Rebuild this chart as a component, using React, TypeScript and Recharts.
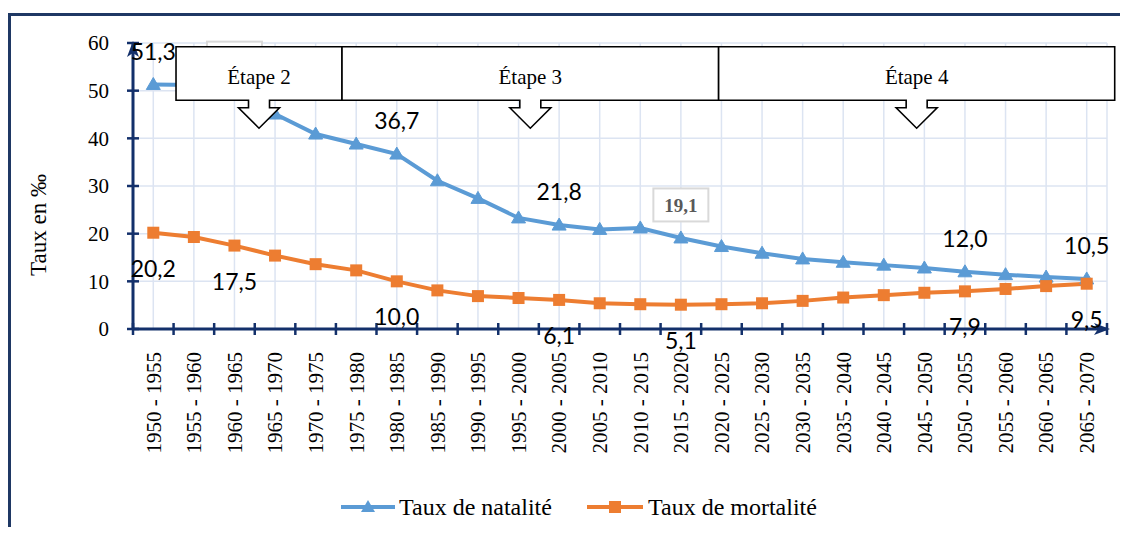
import React from 'react'
import { CartesianGrid, LabelList, Line, LineChart, ReferenceArea, XAxis, YAxis } from 'recharts'

const periods = [
  '1950 - 1955', '1955 - 1960', '1960 - 1965', '1965 - 1970', '1970 - 1975', '1975 - 1980',
  '1980 - 1985', '1985 - 1990', '1990 - 1995', '1995 - 2000', '2000 - 2005', '2005 - 2010',
  '2010 - 2015', '2015 - 2020', '2020 - 2025', '2025 - 2030', '2030 - 2035', '2035 - 2040',
  '2040 - 2045', '2045 - 2050', '2050 - 2055', '2055 - 2060', '2060 - 2065', '2065 - 2070',
]
const natalite = [51.3, 51.2, 49.9, 45.1, 40.9, 38.8, 36.7, 31.1, 27.4, 23.3, 21.8, 20.9, 21.2, 19.1, 17.3, 15.9, 14.7, 14.0, 13.4, 12.8, 12.0, 11.4, 10.9, 10.5]
const mortalite = [20.2, 19.3, 17.5, 15.4, 13.6, 12.3, 10.0, 8.1, 6.9, 6.5, 6.1, 5.4, 5.2, 5.1, 5.2, 5.4, 5.9, 6.6, 7.1, 7.6, 7.9, 8.4, 9.0, 9.5]
const yTicks = [0, 10, 20, 30, 40, 50, 60]

// which points carry a data label
const natLabelIdx = [0, 6, 10, 20, 23]
const natBoxedIdx = [13]
const natHiddenBoxIdx = [2] // label box tucked behind the "Étape 2" call-out
const morLabelIdx = [0, 2, 6, 10, 13, 20, 23]

// stage call-outs, in category units
const stages = [
  { name: 'Étape 2', from: 0.56, to: 4.65 },
  { name: 'Étape 3', from: 4.65, to: 13.93 },
  { name: 'Étape 4', from: 13.93, to: 23.69 },
]
const stageTop = 59.2
const stageBottom = 48

const rows = periods.map((period, i) => ({ idx: i, period, natalite: natalite[i], mortalite: mortalite[i] }))
const centers = periods.map((_, i) => i)

const NAVY = '#13306B'
const FRAME = '#1F3864'
const GRID = '#DCE4F2'
const BLUE = '#5B9BD5'
const ORANGE = '#ED7D31'
const SERIF = '"Liberation Serif", "Times New Roman", serif'
const SANS = 'Lato, Calibri, sans-serif'

const fmt = (v: number) => v.toFixed(1).replace('.', ',')

// category label plus the cross tick marks on the band boundaries
function PeriodTick({ x, y, payload, width }: any) {
  const half = width / periods.length / 2
  const ty = y + 23
  const last = payload.value === periods.length - 1
  const r = x + half
  return (
    <g>
      <line x1={x - half} x2={x - half} y1={y - 6} y2={y + 6} stroke={NAVY} strokeWidth={2.5} />
      {last && (
        <g>
          <line x1={r} x2={r} y1={y - 6} y2={y + 6} stroke={NAVY} strokeWidth={2.5} />
          <path d={`M${r + 3},${y} L${r - 13},${y - 6} L${r - 9},${y} L${r - 13},${y + 6} Z`} fill={NAVY} />
        </g>
      )}
      <text x={x} y={ty} transform={`rotate(-90 ${x} ${ty})`} textAnchor="end" dy="0.35em"
        fontFamily={SERIF} fontSize={21} fill="#000">
        {periods[payload.value]}
      </text>
    </g>
  )
}

function ValueTick({ x, y, payload }: any) {
  const top = payload.value === yTicks[yTicks.length - 1]
  return (
    <g>
      <line x1={x - 6} x2={x + 6} y1={y} y2={y} stroke={NAVY} strokeWidth={2.5} />
      {top && <path d={`M${x},${y - 2} L${x - 6},${y + 14} L${x},${y + 10} L${x + 6},${y + 14} Z`} fill={NAVY} />}
      <text x={x - 24} y={y} dy="0.35em" textAnchor="end" fontFamily={SERIF} fontSize={21} fill="#000">
        {payload.value}
      </text>
    </g>
  )
}

function Triangle({ cx, cy }: any) {
  if (cx == null || cy == null) return null
  return <path d={`M${cx},${cy - 7} L${cx - 7},${cy + 5} L${cx + 7},${cy + 5} Z`} fill={BLUE} stroke={BLUE} strokeWidth={1} />
}

function Square({ cx, cy }: any) {
  if (cx == null || cy == null) return null
  return <rect x={cx - 6} y={cy - 6} width={12} height={12} fill={ORANGE} />
}

const pos = (p: any) => ({ x: p.x ?? p.viewBox?.x, y: p.y ?? p.viewBox?.y })

function NatLabel(p: any) {
  const { x, y } = pos(p)
  const i = p.index
  const ly = y - 33
  if (natHiddenBoxIdx.includes(i)) {
    return <rect x={x - 27.5} y={ly - 16.5} width={55} height={33} fill="#fff" stroke="#D9D9D9" strokeWidth={2} />
  }
  if (natBoxedIdx.includes(i)) {
    return (
      <g>
        <rect x={x - 27.5} y={ly - 16.5} width={55} height={33} fill="#fff" stroke="#D9D9D9" strokeWidth={2} />
        <text x={x} y={ly} dy="0.35em" textAnchor="middle" fontFamily={SERIF} fontWeight="bold" fontSize={19} fill="#595959">
          {fmt(natalite[i])}
        </text>
      </g>
    )
  }
  if (!natLabelIdx.includes(i)) return null
  return (
    <text x={x} y={ly} dy="0.35em" textAnchor="middle" fontFamily={SANS} fontSize={23} fill="#000">
      {fmt(natalite[i])}
    </text>
  )
}

function MorLabel(p: any) {
  const { x, y } = pos(p)
  const i = p.index
  if (!morLabelIdx.includes(i)) return null
  return (
    <text x={x} y={y + 36} dy="0.35em" textAnchor="middle" fontFamily={SANS} fontSize={23} fill="#000">
      {fmt(mortalite[i])}
    </text>
  )
}

function StageShape({ x, y, width, height, name }: any) {
  const top = Math.min(y, y + height)
  const h = Math.abs(height)
  const left = Math.min(x, x + width)
  const w = Math.abs(width)
  const cx = left + w / 2
  const b = top + h
  const d = `M${left},${top} H${left + w} V${b} H${cx + 10.5} V${b + 7.5} H${cx + 20.5} L${cx},${b + 28} L${cx - 20.5},${b + 7.5} H${cx - 10.5} V${b} H${left} Z`
  return (
    <g>
      <path d={d} fill="#fff" stroke="#000" strokeWidth={1.6} />
      <text x={cx} y={top + 37} textAnchor="middle" fontFamily={SERIF} fontSize={21} fill="#000">{name}</text>
    </g>
  )
}

export default function App() {
  return (
    <div style={{ paddingTop: 5 }}>
      <div style={{
        position: 'relative', width: 1117, height: 514, boxSizing: 'border-box', background: '#fff',
        borderTop: `3px solid ${FRAME}`, borderLeft: `3px solid ${FRAME}`, borderRight: `3px solid ${FRAME}`,
      }}>
        <LineChart width={1111} height={511} data={rows} margin={{ top: 27, right: 15, bottom: 197, left: 62 }}>
          <CartesianGrid xAxisId="c" stroke={GRID} strokeWidth={1.5} />
          <XAxis xAxisId="c" dataKey="idx" type="number" domain={[-0.5, 23.5]} ticks={centers} interval={0} height={1}
            axisLine={{ stroke: NAVY, strokeWidth: 3 }} tickLine={false} tickSize={0} tickMargin={0}
            tick={(p: any) => <PeriodTick {...p} />} allowDataOverflow />
          <YAxis width={60} domain={[0, 60]} ticks={yTicks} interval={0}
            axisLine={{ stroke: NAVY, strokeWidth: 3 }} tickLine={false} tickSize={0} tickMargin={0}
            tick={(p: any) => <ValueTick {...p} />} />
          <Line xAxisId="c" type="linear" dataKey="natalite" stroke={BLUE} strokeWidth={4}
            dot={(p: any) => <Triangle key={`t${p.index}`} {...p} />} activeDot={false} isAnimationActive={false}>
            <LabelList dataKey="natalite" content={(p: any) => <NatLabel {...p} />} />
          </Line>
          <Line xAxisId="c" type="linear" dataKey="mortalite" stroke={ORANGE} strokeWidth={4}
            dot={(p: any) => <Square key={`s${p.index}`} {...p} />} activeDot={false} isAnimationActive={false}>
            <LabelList dataKey="mortalite" content={(p: any) => <MorLabel {...p} />} />
          </Line>
          {stages.map((s) => (
            <ReferenceArea key={s.name} xAxisId="c" x1={s.from} x2={s.to} y1={stageBottom} y2={stageTop}
              ifOverflow="visible" zIndex={2500}
              shape={(p: any) => <StageShape {...p} name={s.name} />} />
          ))}
        </LineChart>
        <svg width={1111} height={511} style={{ position: 'absolute', left: 0, top: 0, pointerEvents: 'none' }}>
          <text x={27} y={209} transform="rotate(-90 27 209)" textAnchor="middle" dy="0.35em"
            fontFamily={SERIF} fontSize={23} fill="#000">Taux en ‰</text>
          <line x1={330} x2={384} y1={491} y2={491} stroke={BLUE} strokeWidth={4} />
          <path d="M357,484 L350,496 L364,496 Z" fill={BLUE} />
          <text x={388} y={491} dy="0.35em" fontFamily={SERIF} fontSize={24} fill="#000">Taux de natalité</text>
          <line x1={576} x2={632} y1={491} y2={491} stroke={ORANGE} strokeWidth={4} />
          <rect x={598} y={485} width={12} height={12} fill={ORANGE} />
          <text x={637} y={491} dy="0.35em" fontFamily={SERIF} fontSize={24} fill="#000">Taux de mortalité</text>
        </svg>
      </div>
    </div>
  )
}
